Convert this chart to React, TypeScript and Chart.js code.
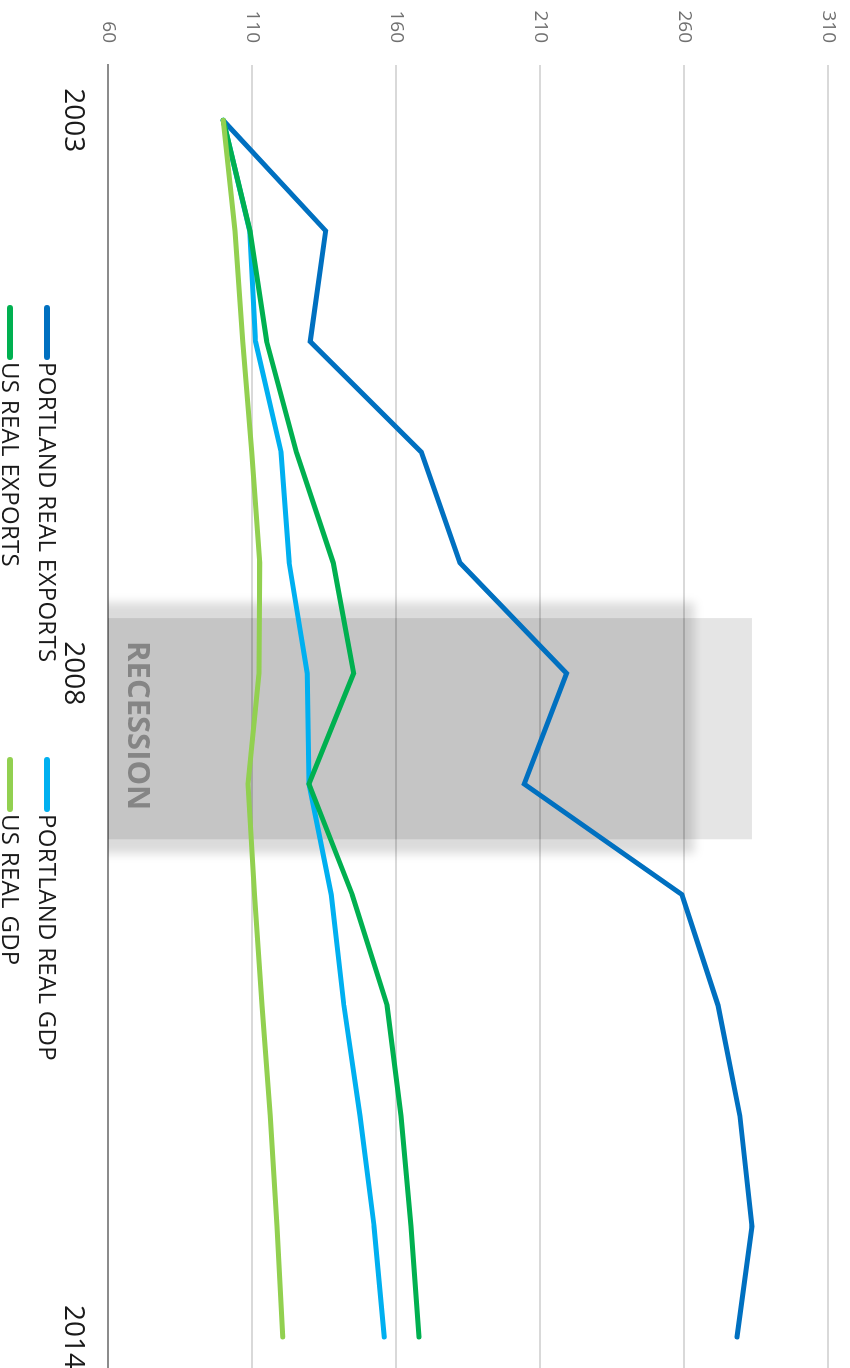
import React, { useEffect, useRef } from "react";
import { Chart, registerables } from "chart.js";

Chart.register(...registerables);

// ---- data ----
const YEARS = [2003, 2004, 2005, 2006, 2007, 2008, 2009, 2010, 2011, 2012, 2013, 2014];
const YEAR_TICKS = [2003, 2008, 2014];
const VALUE_TICKS = [60, 110, 160, 210, 260, 310];

const PORTLAND_REAL_EXPORTS = [100, 135.6, 130.2, 168.8, 182.2, 219.2, 204.5, 259.3, 271.8, 279.4, 283.6, 278.4];
const US_REAL_EXPORTS = [100, 109.3, 115.1, 125.4, 138.2, 145.3, 129.8, 144.8, 156.9, 161.7, 165.2, 168.0];
const PORTLAND_REAL_GDP = [100, 109.2, 111.2, 120.1, 122.9, 129.2, 129.8, 137.5, 141.9, 147.5, 152.4, 155.9];
const US_REAL_GDP = [100, 104.1, 106.8, 109.9, 112.7, 112.4, 108.6, 110.9, 113.5, 116.3, 118.7, 120.7];

const SERIES_LABELS = ["PORTLAND REAL EXPORTS", "US REAL EXPORTS", "PORTLAND REAL GDP", "US REAL GDP"];
const SERIES_COLORS = ["#0070c0", "#00b050", "#00b0f0", "#92d050"];

// recession band (years) and its heights (index value)
const RECESSION_LABEL = "RECESSION";
const RECESSION_BAND = [2007.5, 2009.5];
const RECESSION_BAND_TOP = 283.6;
const RECESSION_SHADE = [2007.36, 2009.63];
const RECESSION_SHADE_TOP = 263.6;

const X_MIN = 2002.5;
const X_MAX = 2014.28;
const Y_MIN = 60;
const Y_MAX = 310;

const recessionPlugin = {
  id: "recession",
  beforeDatasetsDraw(chart: any) {
    const { ctx, chartArea } = chart;
    const x = chart.scales.x;
    const y = chart.scales.y;
    ctx.save();
    ctx.beginPath();
    ctx.rect(chartArea.left, chartArea.top, chartArea.right - chartArea.left, chartArea.bottom - chartArea.top);
    ctx.clip();

    const bx0 = x.getPixelForValue(RECESSION_BAND[0]);
    const bx1 = x.getPixelForValue(RECESSION_BAND[1]);
    const by = y.getPixelForValue(RECESSION_BAND_TOP);
    ctx.fillStyle = "rgba(0,0,0,0.10)";
    ctx.fillRect(bx0, by, bx1 - bx0, chartArea.bottom - by);

    const sx0 = x.getPixelForValue(RECESSION_SHADE[0]);
    const sx1 = x.getPixelForValue(RECESSION_SHADE[1]);
    const sy = y.getPixelForValue(RECESSION_SHADE_TOP);
    ctx.filter = "blur(5px)";
    ctx.fillStyle = "rgba(0,0,0,0.14)";
    ctx.fillRect(sx0, sy, sx1 - sx0, chartArea.bottom - sy + 30);
    ctx.filter = "none";

    ctx.font = "bold 31px 'Open Sans'";
    ctx.fillStyle = "#858585";
    ctx.textAlign = "left";
    ctx.textBaseline = "alphabetic";
    ctx.fillText(RECESSION_LABEL, bx0 + 23, chartArea.bottom - 20);
    ctx.restore();
  },
};

const SERIES = [US_REAL_GDP, US_REAL_EXPORTS, PORTLAND_REAL_GDP, PORTLAND_REAL_EXPORTS];
const SERIES_IDX = [3, 1, 2, 0];

const LEGEND_POS = [
  { left: 305, cy: 802.5 },
  { left: 305, cy: 839.5 },
  { left: 757, cy: 802.5 },
  { left: 757, cy: 839.5 },
];

const zeroPad = (s: any) => {
  s.paddingTop = 0;
  s.paddingBottom = 0;
  s.paddingLeft = 0;
  s.paddingRight = 0;
};

export default function App() {
  const ref = useRef<HTMLCanvasElement>(null);

  useEffect(() => {
    document.documentElement.style.overflow = "hidden";
    document.body.style.margin = "0";
    const datasets = SERIES.map((vals, i) => {
      const idx = SERIES_IDX[i];
      return {
        label: SERIES_LABELS[idx],
        data: YEARS.map((yr, k) => ({ x: yr, y: vals[k] })),
        borderColor: SERIES_COLORS[idx],
        backgroundColor: SERIES_COLORS[idx],
        borderWidth: 5,
        borderCapStyle: "round" as const,
        borderJoinStyle: "miter" as const,
        pointRadius: 0,
        tension: 0,
        fill: false,
      };
    });

    const chart = new Chart(ref.current!, {
      type: "line",
      data: { datasets },
      plugins: [recessionPlugin],
      options: {
        responsive: false,
        maintainAspectRatio: false,
        animation: false,
        devicePixelRatio: 1,
        layout: { padding: { top: 22, left: 0, right: 0, bottom: 0 }, autoPadding: false },
        plugins: { legend: { display: false }, tooltip: { enabled: false } },
        scales: {
          x: {
            type: "linear",
            min: X_MIN,
            max: X_MAX,
            position: "bottom",
            afterBuildTicks: (s: any) => {
              s.ticks = YEAR_TICKS.map((v) => ({ value: v }));
            },
            afterFit: (s: any) => {
              s.height = 108;
              zeroPad(s);
            },
            grid: { display: false, drawTicks: false },
            border: { display: true, color: "#8c8c8c", width: 2 },
            ticks: {
              autoSkip: false,
              maxRotation: 0,
              minRotation: 0,
              padding: 18,
              color: "#1a1a1a",
              font: { family: "'Open Sans'", size: 28 },
              callback: (v: any) => String(v),
            },
          },
          y: {
            type: "linear",
            min: Y_MIN,
            max: Y_MAX,
            afterBuildTicks: (s: any) => {
              s.ticks = VALUE_TICKS.map((v) => ({ value: v }));
            },
            afterFit: (s: any) => {
              s.width = 65;
              zeroPad(s);
            },
            grid: { color: "#d9d9d9", lineWidth: 2, drawTicks: false },
            border: { display: false },
            ticks: {
              padding: 22,
              color: "#707070",
              font: { family: "'Open Sans'", size: 19 },
              callback: (v: any) => String(v),
            },
          },
        },
      },
    });
    return () => chart.destroy();
  }, []);

  return (
    <div
      style={{
        position: "absolute",
        left: 0,
        top: 0,
        width: 1368,
        height: 850,
        transformOrigin: "0 0",
        transform: "translateX(850px) rotate(90deg)",
        background: "#fff",
      }}
    >
      <canvas ref={ref} width={1368} height={850} style={{ display: "block", width: 1368, height: 850 }} />
      {SERIES_LABELS.map((label, i) => (
        <div
          key={label}
          style={{
            position: "absolute",
            left: LEGEND_POS[i].left,
            top: LEGEND_POS[i].cy - 15,
            height: 30,
            display: "flex",
            alignItems: "center",
            whiteSpace: "nowrap",
          }}
        >
          <div style={{ width: 55, height: 6, borderRadius: 3, background: SERIES_COLORS[i], marginRight: 2 }} />
          <span
            style={{
              fontFamily: "'Open Sans'",
              fontSize: 24,
              lineHeight: "24px",
              letterSpacing: "0.3px",
              color: "#1a1a1a",
              position: "relative",
              top: -1,
            }}
          >
            {label}
          </span>
        </div>
      ))}
    </div>
  );
}
